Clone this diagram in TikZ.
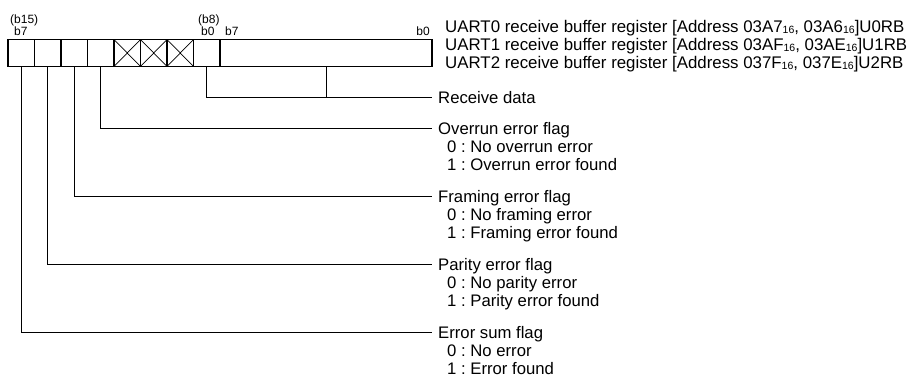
\documentclass[tikz,border=0pt]{standalone}
\usepackage{fontspec}
\setmainfont{Liberation Sans}
\frenchspacing
\newcommand{\hexsub}{\raisebox{-1pt}{\fontsize{10.5}{11}\selectfont 16}}
\begin{document}
\begin{tikzpicture}[x=1pt,y=-1pt,
  cell/.style={draw, line width=1.3pt, minimum width=26.5pt, minimum height=27pt,
               inner sep=0pt, outer sep=0pt, anchor=north west},
  bigcell/.style={cell, minimum width=212pt},
  lbl/.style={font=\fontsize{16.7}{18}\selectfont, inner xsep=6pt, inner ysep=0pt,
              text height=12pt, text depth=0pt, anchor=west},
  sublbl/.style={lbl, inner xsep=0pt},
  hdr/.style={font=\fontsize{16.85}{18}\selectfont, inner sep=0pt, anchor=base west},
  bitlbl/.style={font=\fontsize{12}{13}\selectfont, inner sep=0pt, anchor=base west},
  wire/.style={line width=0.8pt},
  xline/.style={line width=0.7pt}]
\useasboundingbox (0,0) rectangle (912,380);

% register cells (b15 ... b8) and low byte
\foreach \i in {0,...,7} {
  \node[cell] (c\i) at ({8+26.5*\i},39.5) {};
}
\node[bigcell] (lo) at (220,39.5) {};

% reserved bits
\foreach \i in {4,5,6} {
  \draw[xline] (c\i.north west) -- (c\i.south east)
               (c\i.south west) -- (c\i.north east);
}

% bit labels
\node[bitlbl] (t15) at (10,23.3) {(b15)};
\node[bitlbl] (t7a) at (14,35.5) {b7};
\node[bitlbl] (t8)  at (198,23.3) {(b8)};
\node[bitlbl] (t0a) at (201,35.5) {b0};
\node[bitlbl] (t7b) at (225,35.5) {b7};
\node[bitlbl, anchor=base east] (t0b) at (430,35.5) {b0};

% register names
\node[hdr] (h0) at (445,32) {UART0 receive buffer register [Address 03A7\hexsub, 03A6\hexsub]U0RB};
\node[hdr] (h1) at (445,50.3) {UART1 receive buffer register [Address 03AF\hexsub, 03AE\hexsub]U1RB};
\node[hdr] (h2) at (445,68.6) {UART2 receive buffer register [Address 037F\hexsub, 037E\hexsub]U2RB};

% descriptions
\node[lbl] (rd) at (432,97) {Receive data};

\node[lbl] (ov) at (432,128.3) {Overrun error flag};
\node[sublbl] (ov0) at (447,146.3) {0 : No overrun error};
\node[sublbl] (ov1) at (447,164.4) {1 : Overrun error found};

\node[lbl] (fr) at (432,196.5) {Framing error flag};
\node[sublbl] (fr0) at (447,214.5) {0 : No framing error};
\node[sublbl] (fr1) at (447,232.6) {1 : Framing error found};

\node[lbl] (pa) at (432,264.6) {Parity error flag};
\node[sublbl] (pa0) at (447,282.6) {0 : No parity error};
\node[sublbl] (pa1) at (447,300.7) {1 : Parity error found};

\node[lbl] (es) at (432,332.7) {Error sum flag};
\node[sublbl] (es0) at (447,350.7) {0 : No error};
\node[sublbl] (es1) at (447,368.8) {1 : Error found};

% connectors
\draw[wire] (c7.south) |- (rd.west);
\draw[wire] (lo.south) -- (lo.south |- rd.west);
\draw[wire] (c3.south) |- (ov.west);
\draw[wire] (c2.south) |- (fr.west);
\draw[wire] (c1.south) |- (pa.west);
\draw[wire] (c0.south) |- (es.west);
\end{tikzpicture}
\end{document}
